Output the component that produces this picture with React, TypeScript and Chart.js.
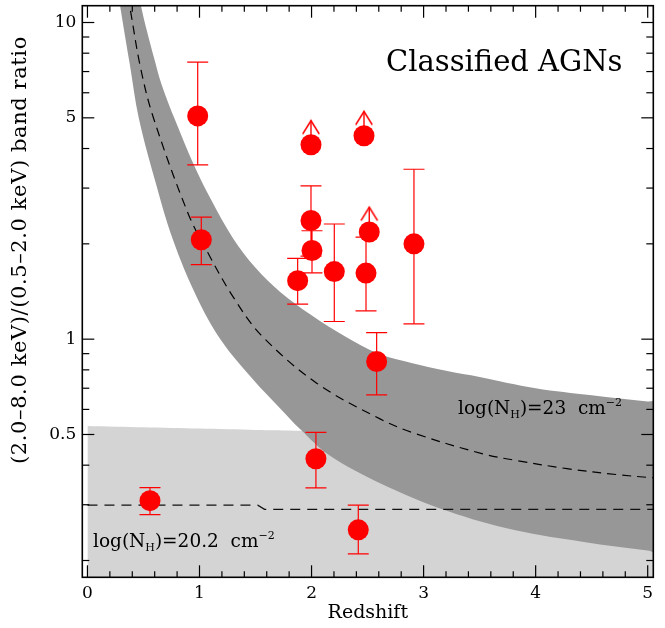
import React, { useEffect, useRef } from 'react';
import { Chart, registerables } from 'chart.js';

Chart.register(...registerables);

// ---------------- data ----------------
// detected sources with 1-sigma error bars
const detRedshift = [0.984, 1.016, 1.995, 2.004, 1.876, 2.203, 2.486, 2.914, 2.581, 0.558, 2.039, 2.417];
const detRatio = [5.07, 2.06, 2.37, 1.905, 1.53, 1.635, 1.617, 2.0, 0.85, 0.309, 0.419, 0.25];
const detRatioHi = [7.5, 2.43, 3.05, 2.2, 1.8, 2.31, 2.1, 3.44, 1.049, 0.34, 0.508, 0.299];
const detRatioLo = [3.55, 1.72, 1.83, 1.62, 1.29, 1.137, 1.229, 1.118, 0.667, 0.279, 0.339, 0.21];

// lower limits (arrows)
const limRedshift = [1.995, 2.468, 2.515];
const limRatio = [4.11, 4.39, 2.18];
const limArrowTip = [4.9, 5.24, 2.61];

// log(NH)=23 band: upper and lower edges, and central dashed track
const nh23UpperZ = [0.4, 0.48, 0.528, 0.6, 0.66, 0.784, 0.95, 1.105, 1.3, 1.5, 1.72, 2.0, 2.3, 2.6, 2.9, 3.2, 3.5, 4.0, 4.5, 5.0, 5.1];
const nh23UpperRatio = [15.5, 11.2, 9.48, 7.6, 6.4, 4.9, 3.55, 2.75, 2.08, 1.68, 1.41, 1.19, 1.02, 0.9, 0.84, 0.795, 0.76, 0.7, 0.665, 0.636, 0.632];
const nh23LowerZ = [0.24, 0.293, 0.38, 0.457, 0.6, 0.763, 0.977, 1.194, 1.48, 1.718, 1.897, 2.165, 2.611, 3.22, 3.82, 4.43, 5.0, 5.1];
const nh23LowerRatio = [15, 11.2, 7.3, 5.01, 3.2, 2.06, 1.355, 0.99, 0.744, 0.605, 0.52, 0.428, 0.351, 0.286, 0.249, 0.229, 0.215, 0.213];
const nh23MidZ = [0.33, 0.376, 0.47, 0.585, 0.897, 1.076, 1.3, 1.55, 2.046, 2.611, 2.914, 3.52, 3.825, 4.28, 4.74, 5.0, 5.1];
const nh23MidRatio = [13.5, 11.3, 7.3, 5.05, 2.5, 1.87, 1.36, 1.03, 0.726, 0.56, 0.505, 0.435, 0.414, 0.39, 0.373, 0.366, 0.364];

// log(NH)=20.2 region: top of light band and dashed track
const nh202TopZ = [0, 0.5, 1.0, 1.5, 1.9, 2.5, 3.5, 5.1];
const nh202TopRatio = [0.532, 0.527, 0.522, 0.517, 0.514, 0.505, 0.49, 0.47];
const nh202LineZ = [0, 1.52, 1.58, 5.1];
const nh202LineRatio = [0.299, 0.299, 0.29, 0.29];

// axes
const xMajorTicks = [0, 1, 2, 3, 4, 5];
const xMinorTicks = [0.2, 0.4, 0.6, 0.8, 1.2, 1.4, 1.6, 1.8, 2.2, 2.4, 2.6, 2.8, 3.2, 3.4, 3.6, 3.8, 4.2, 4.4, 4.6, 4.8];
const yMajorTicks = [0.5, 1, 5, 10];
const yMinorTicks = [0.2, 0.3, 0.4, 0.6, 0.7, 0.8, 0.9, 2, 3, 4, 6, 7, 8, 9];

const RED = '#ff0000';
const DARK = '#979797';
const LIGHT = '#d4d4d4';
const FONT = '"DejaVu Serif", serif';

function drawNH(ctx: CanvasRenderingContext2D, x: number, y: number, val: string) {
  ctx.textBaseline = 'alphabetic';
  ctx.textAlign = 'left';
  ctx.fillStyle = '#000';
  let cx = x;
  const put = (t: string, size: number, dy: number) => {
    ctx.font = `${size}px ${FONT}`;
    ctx.fillText(t, cx, y + dy);
    cx += ctx.measureText(t).width;
  };
  put('log(N', 18.5, 0);
  put('H', 11, 4);
  put(')=' + val + '  cm', 18.5, 0);
  put('−2', 11, -8);
}

const decor = {
  id: 'decor',
  afterDatasetsDraw(chart: any) {
    const { ctx, chartArea: a, scales } = chart;
    const x = scales.x;
    const y = scales.y;
    ctx.save();
    ctx.strokeStyle = '#000';
    ctx.lineWidth = 1.2;
    const tick = (x1: number, y1: number, x2: number, y2: number) => {
      ctx.beginPath();
      ctx.moveTo(x1, y1);
      ctx.lineTo(x2, y2);
      ctx.stroke();
    };
    const xt = (vals: number[], len: number) => {
      for (const v of vals) {
        const px = x.getPixelForValue(v);
        tick(px, a.bottom, px, a.bottom - len);
        tick(px, a.top, px, a.top + len);
      }
    };
    const yt = (vals: number[], len: number) => {
      for (const v of vals) {
        const py = y.getPixelForValue(v);
        tick(a.left, py, a.left + len, py);
        tick(a.right, py, a.right - len, py);
      }
    };
    xt(xMajorTicks, 12);
    xt(xMinorTicks, 6);
    yt(yMajorTicks, 12);
    yt(yMinorTicks, 7);
    ctx.lineWidth = 1.6;
    ctx.strokeRect(a.left, a.top, a.right - a.left, a.bottom - a.top);

    // texts
    ctx.fillStyle = '#000';
    ctx.font = `29px ${FONT}`;
    ctx.textAlign = 'left';
    ctx.textBaseline = 'alphabetic';
    ctx.fillText('Classified AGNs', 386, 71);
    drawNH(ctx, 458, 414, '23');
    drawNH(ctx, 93, 547, '20.2');

    // axis titles
    ctx.font = `19px ${FONT}`;
    ctx.textAlign = 'center';
    ctx.textBaseline = 'middle';
    ctx.fillText('Redshift', (a.left + a.right) / 2, 613);
    ctx.save();
    ctx.translate(21, 250);
    ctx.rotate(-Math.PI / 2);
    ctx.font = `21px ${FONT}`;
    (ctx as any).letterSpacing = '0.6px';
    ctx.fillText('(2.0–8.0 keV)/(0.5–2.0 keV) band ratio', 0, 0);
    (ctx as any).letterSpacing = '0px';
    ctx.restore();
    ctx.restore();
  },
};

export default function App() {
  const ref = useRef<HTMLCanvasElement>(null);
  useEffect(() => {
    const canvas = ref.current!;
    const chev = document.createElement('canvas');
    chev.width = 20;
    chev.height = 32;
    const c = chev.getContext('2d')!;
    c.strokeStyle = RED;
    c.lineWidth = 1.6;
    c.beginPath();
    c.moveTo(1.7, 29.3);
    c.lineTo(10, 16);
    c.lineTo(18.3, 29.3);
    c.stroke();

    const points = detRedshift.map((z, i) => ({ x: z, y: detRatio[i] }));
    const limPoints = limRedshift.map((z, i) => ({ x: z, y: limRatio[i] }));
    const errData: any[] = [];
    detRedshift.forEach((z, i) => {
      errData.push({ x: z, y: detRatioLo[i] }, { x: z, y: detRatioHi[i] }, { x: z, y: null });
    });
    const shaftData: any[] = [];
    limRedshift.forEach((z, i) => {
      shaftData.push({ x: z, y: limRatio[i] }, { x: z, y: limArrowTip[i] }, { x: z, y: null });
    });
    const headData = limRedshift.map((z, i) => ({ x: z, y: limArrowTip[i] }));
    const band: any[] = [];
    nh23UpperZ.forEach((z, i) => band.push({ x: z, y: nh23UpperRatio[i] }));
    for (let i = nh23LowerZ.length - 1; i >= 0; i--) band.push({ x: nh23LowerZ[i], y: nh23LowerRatio[i] });
    const mid = nh23MidZ.map((z, i) => ({ x: z, y: nh23MidRatio[i] }));
    const light = nh202TopZ.map((z, i) => ({ x: z, y: nh202TopRatio[i] }));
    const line202 = nh202LineZ.map((z, i) => ({ x: z, y: nh202LineRatio[i] }));

    const chart = new Chart(canvas, {
      type: 'scatter',
      data: {
        datasets: [
          { data: points, order: 1, pointRadius: 10.5, backgroundColor: RED, borderColor: RED, pointBorderWidth: 0 } as any,
          { data: limPoints, order: 1, pointRadius: 10.5, backgroundColor: RED, borderColor: RED, pointBorderWidth: 0 } as any,
          {
            data: errData, order: 2, showLine: true, spanGaps: false, borderColor: RED, borderWidth: 1.2,
            pointStyle: 'line', pointRadius: 10.5, pointBorderColor: RED, pointBorderWidth: 1.2,
          } as any,
          { data: shaftData, order: 2, showLine: true, spanGaps: false, borderColor: RED, borderWidth: 1.4, pointRadius: 0 } as any,
          { data: headData, order: 2, pointStyle: chev, pointRadius: 5 } as any,
          { data: mid, order: 3, showLine: true, tension: 0.35, borderColor: '#000', borderWidth: 1.2, borderDash: [9, 6], pointRadius: 0 } as any,
          { data: line202, order: 3, showLine: true, borderColor: '#111', borderWidth: 1.3, borderDash: [10, 7], pointRadius: 0 } as any,
          { data: band, order: 4, showLine: true, tension: 0.35, fill: 'shape', backgroundColor: DARK, borderWidth: 0, borderColor: 'rgba(0,0,0,0)', pointRadius: 0 } as any,
          { data: light, order: 5, showLine: true, tension: 0.3, fill: 'start', backgroundColor: LIGHT, borderWidth: 0, borderColor: 'rgba(0,0,0,0)', pointRadius: 0 } as any,
        ],
      },
      options: {
        animation: false,
        responsive: true,
        maintainAspectRatio: false,
        events: [],
        layout: { autoPadding: false, padding: { top: 5.7, right: 11.7, left: 0, bottom: 0 } },
        plugins: { legend: { display: false }, tooltip: { enabled: false } },
        scales: {
          x: {
            type: 'linear',
            min: -0.046,
            max: 5.05,
            grid: { display: false, drawTicks: false },
            border: { display: false },
            ticks: {
              color: '#000',
              font: { family: FONT, size: 17 },
              padding: 6,
              maxRotation: 0,
              autoSkip: false,
              callback: (v: any) => String(v),
            },
            afterBuildTicks: (s: any) => {
              s.ticks = xMajorTicks.map((v) => ({ value: v }));
            },
            afterFit: (s: any) => {
              s.height = 50.7;
              s.paddingLeft = 0;
              s.paddingRight = 0;
            },
          },
          y: {
            type: 'logarithmic',
            min: 0.177,
            max: 11.3,
            grid: { display: false, drawTicks: false },
            border: { display: false },
            ticks: {
              color: '#000',
              font: { family: FONT, size: 17 },
              padding: 6,
              autoSkip: false,
              callback: (v: any) => String(v),
            },
            afterBuildTicks: (s: any) => {
              s.ticks = yMajorTicks.map((v) => ({ value: v }));
            },
            afterFit: (s: any) => {
              s.width = 82.3;
              s.paddingTop = 0;
              s.paddingBottom = 0;
            },
          },
        },
      } as any,
      plugins: [decor],
    });
    return () => chart.destroy();
  }, []);
  return (
    <div style={{ position: 'absolute', left: 0, top: 0, width: 665, height: 628, background: '#fff' }}>
      <canvas ref={ref} />
    </div>
  );
}
